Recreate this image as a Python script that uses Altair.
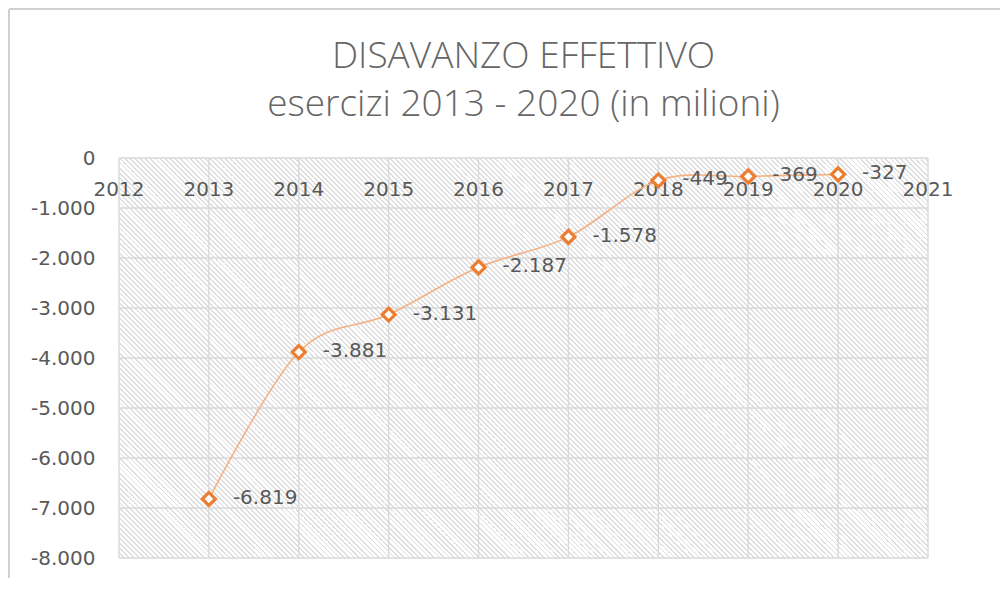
import math
import altair as alt
import pandas as pd

# ---- data ----
years = [2013, 2014, 2015, 2016, 2017, 2018, 2019, 2020]
disavanzo = [-6819, -3881, -3131, -2187, -1578, -449, -369, -327]
x_ticks = list(range(2012, 2022))
y_ticks = list(range(-8000, 1, 1000))
title_lines = ["DISAVANZO EFFETTIVO", "esercizi 2013 - 2020 (in milioni)"]

labels = [f"{v:,}".replace(",", ".") for v in disavanzo]
df = pd.DataFrame({"anno": years, "valore": disavanzo, "etichetta": labels})
xdf = pd.DataFrame({"anno": x_ticks})
ydf = pd.DataFrame({"valore": y_ticks})

W, H = 809, 400
FONT = "DejaVu Sans"
GREY = "#595959"
ORANGE = "#ed7d31"
GRID = "#d9d9d9"

# diagonal hatch for the plot background (style only)
k_ = H / W
a_ = (1 + k_) / (1 + k_ ** 2)
b_ = -a_ * k_
L = (W + H) / math.sqrt(2)
period = 5 / math.sqrt(2)
stripe = 0.36
stops = []
n = int(L / period) + 1
for i in range(n):
    o0 = i * period / L
    o1 = (i + stripe) * period / L
    o2 = (i + 1) * period / L
    if o0 > 1:
        break
    stops += [
        alt.GradientStop(color="#dddddd", offset=min(o0, 1)),
        alt.GradientStop(color="#dddddd", offset=min(o1, 1)),
        alt.GradientStop(color="#ffffff", offset=min(o1, 1)),
        alt.GradientStop(color="#ffffff", offset=min(o2, 1)),
    ]
hatch = alt.LinearGradient(gradient="linear", stops=stops, x1=0, y1=1, x2=a_, y2=1 + b_)

xscale = alt.Scale(domain=[2012, 2021], nice=False, zero=False)
yscale = alt.Scale(domain=[-8000, 0], nice=False)

background = alt.Chart(alt.Data(values=[{}])).mark_rect(fill=hatch, stroke=None).encode(
    x=alt.value(0), x2=alt.value("width"), y=alt.value(0), y2=alt.value("height")
)

xgrid = alt.Chart(xdf).mark_rule(color=GRID, strokeWidth=1.4).encode(
    x=alt.X("anno:Q", scale=xscale, axis=None)
)
ygrid = alt.Chart(ydf).mark_rule(color=GRID, strokeWidth=1.4).encode(
    y=alt.Y(
        "valore:Q",
        scale=yscale,
        title=None,
        axis=alt.Axis(
            values=y_ticks, domain=False, ticks=False, labelPadding=24, labelFont=FONT,
            labelFontSize=20, labelColor=GREY, grid=False,
            labelExpr="datum.value == 0 ? '0' : '-' + format(-datum.value / 1000, 'd') + '.000'",
        ),
    )
)

xlabels = alt.Chart(xdf).mark_text(baseline="alphabetic", align="center", dy=38, font=FONT,
                                   fontSize=20, color=GREY).encode(
    x=alt.X("anno:Q", scale=xscale),
    y=alt.YDatum(0, scale=yscale),
    text=alt.Text("anno:Q", format="d"),
)

line = alt.Chart(df).mark_line(interpolate="cardinal", color="#f4b183", strokeWidth=1.6).encode(
    x=alt.X("anno:Q", scale=xscale),
    y=alt.Y("valore:Q", scale=yscale),
)

points = alt.Chart(df).mark_point(shape="diamond", size=170, fill="white", stroke=ORANGE,
                                  strokeWidth=3.2, opacity=1, fillOpacity=1).encode(
    x=alt.X("anno:Q", scale=xscale), y=alt.Y("valore:Q", scale=yscale)
)

text = alt.Chart(df).mark_text(align="left", baseline="middle", dx=24, dy=-1, font=FONT,
                               fontSize=20, color=GREY).encode(
    x=alt.X("anno:Q", scale=xscale), y=alt.Y("valore:Q", scale=yscale), text="etichetta:N"
)

border = alt.Chart(alt.Data(values=[{}])).mark_rule(color="#d0d0d0", strokeWidth=2).encode(
    x=alt.value(-110), y=alt.value(-149), y2=alt.value(H + 30)
)
border_top = alt.Chart(alt.Data(values=[{}])).mark_rule(color="#d0d0d0", strokeWidth=2).encode(
    x=alt.value(-110), x2=alt.value(W + 80), y=alt.value(-149)
)

chart = alt.layer(background, xgrid, ygrid, xlabels, line, points, text, border, border_top).properties(
    width=W,
    height=H,
    padding={"left": 111, "top": 150, "right": 72, "bottom": 20},
    autosize=alt.AutoSizeParams(type="none"),
    title=alt.TitleParams(
        text=title_lines, font="Open Sans", fontSize=37, fontWeight=300, color="#666666",
        anchor="middle", lineHeight=48, offset=-116,
    ),
).configure_view(stroke=None)

chart.save("out.html", embed_options={"renderer": "svg", "actions": False})
